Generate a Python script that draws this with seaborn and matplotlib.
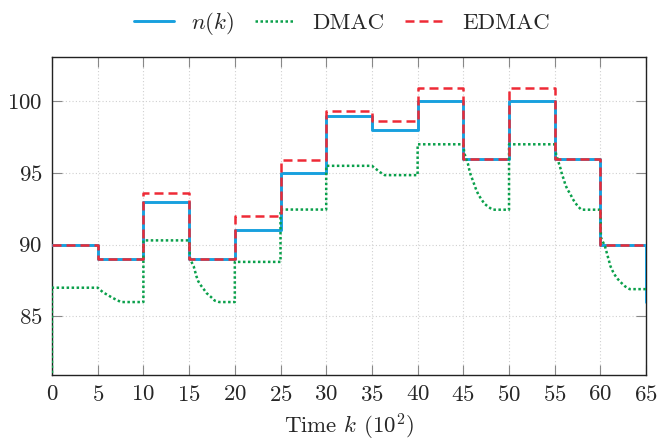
import matplotlib
matplotlib.use("Agg")
import matplotlib.pyplot as plt
import pandas as pd
import seaborn as sns

# Step boundaries (time k in units of 10^2) and piecewise-constant levels
k_steps = [0, 5, 10, 15, 20, 25, 30, 35, 40, 45, 50, 55, 60, 65]
n_levels = [90, 89, 93, 89, 91, 95, 99, 98, 100, 96, 100, 96, 90, 86]
edmac_levels = [90, 89, 93.6, 89, 92, 95.9, 99.3, 98.6, 100.9, 96, 100.9, 96, 90, 90]

# DMAC trajectory (k, value): jumps up instantly, decays after each drop
dmac_k = [0, 0, 5, 5.6, 6.1, 6.6, 7.1, 7.55, 10, 10, 15, 15.1, 15.5, 15.8, 16.0,
          16.3, 16.6, 16.9, 17.4, 17.8, 18.3, 20, 20, 25, 25, 30, 30, 35, 35.5,
          35.9, 36.4, 40, 40, 45, 45.1, 45.5, 45.65, 45.8, 46.0, 46.2, 46.4,
          46.65, 46.95, 47.3, 47.75, 48.2, 50, 50, 55, 55.15, 55.5, 55.67, 55.8,
          56.0, 56.15, 56.4, 56.7, 56.95, 57.25, 57.55, 57.9, 60, 60.05, 60.5,
          60.65, 60.8, 60.95, 61.1, 61.35, 61.6, 61.9, 62.3, 62.7, 63.2, 65]
dmac_v = [80, 87, 87, 86.67, 86.49, 86.3, 86.14, 86.0, 86.0, 90.3, 90.3, 89.0,
          88.5, 87.8, 87.45, 87.15, 86.9, 86.63, 86.35, 86.1, 86.0, 86.0, 88.8,
          88.8, 92.45, 92.45, 95.5, 95.5, 95.25, 95.05, 94.85, 94.85, 97.0, 97.0,
          96.4, 95.65, 95.23, 94.88, 94.54, 94.19, 93.84, 93.49, 93.19, 92.86,
          92.63, 92.44, 92.44, 97.0, 97.0, 96.3, 95.58, 95.23, 94.88, 94.54,
          94.19, 93.84, 93.54, 93.21, 92.91, 92.67, 92.44, 92.44, 90.5, 89.88,
          89.53, 89.18, 88.84, 88.49, 88.14, 87.86, 87.6, 87.33, 87.09, 86.9, 86.9]

x_ticks = list(range(0, 66, 5))
y_ticks = [85, 90, 95, 100]

sns.set_style("ticks")
plt.rcParams.update({
    "font.family": "serif",
    "font.serif": ["cmr10"],
    "mathtext.fontset": "cm",
    "axes.formatter.use_mathtext": True,
    "font.size": 16.5,
})

c_blue = "#18A0DE"
c_green = "#0AA04B"
c_red = "#EE2A36"

fig = plt.figure(figsize=(6.58, 4.44), dpi=100)
ax = fig.add_axes([0.079, 0.155, 0.903, 0.717])

step_df = pd.DataFrame({"k": k_steps, "n": n_levels, "edmac": edmac_levels})
dmac_df = pd.DataFrame({"k": dmac_k, "v": dmac_v})

sns.lineplot(data=step_df, x="k", y="n", ax=ax, color=c_blue, lw=2.1,
             drawstyle="steps-post", estimator=None, sort=False, label="$n(k)$")
sns.lineplot(data=dmac_df, x="k", y="v", ax=ax, color=c_green, lw=1.8,
             linestyle=(0, (1, 1)), estimator=None, sort=False, label="DMAC")
sns.lineplot(data=step_df, x="k", y="edmac", ax=ax, color=c_red, lw=1.8,
             linestyle=(0, (3.6, 2.0)), drawstyle="steps-post", estimator=None,
             sort=False, label="EDMAC")

ax.set_xlim(0, 65)
ax.set_ylim(80.9, 103.1)
ax.set_xticks(x_ticks)
ax.set_yticks(y_ticks)
ax.grid(True, color="#d0d0d0", linestyle=(0, (1, 2)), linewidth=0.8)
ax.tick_params(direction="in", top=True, right=True, length=7, width=0.8,
               color="#888888", labelsize=16.5, pad=7)
for s in ax.spines.values():
    s.set_linewidth(1.0)
    s.set_color("#222222")
    s.set_zorder(1)

ax.set_xlabel(r"Time $k$ $(10^2)$", fontsize=16.5, labelpad=5)
ax.set_ylabel("")

ax.legend(loc="center", bbox_to_anchor=(0.52, 0.946), bbox_transform=fig.transFigure,
          ncol=3, frameon=False, fontsize=16.5, handlelength=1.75,
          handletextpad=0.75, columnspacing=0.9)

fig.savefig("out.png", dpi=100)
